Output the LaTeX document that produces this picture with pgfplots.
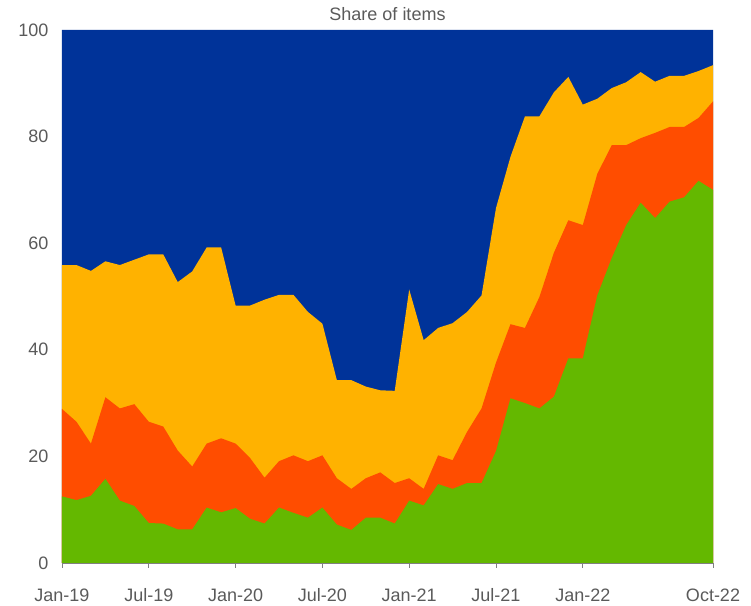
\documentclass[border=0pt]{standalone}
\usepackage{pgfplots}
\pgfplotsset{compat=1.18}
\usepackage{pgfplotstable}
\usepackage{fontspec}
\setmainfont{Liberation Sans}
\definecolor{cblue}{RGB}{0,51,153}
\definecolor{cyellow}{RGB}{255,178,0}
\definecolor{cred}{RGB}{255,77,0}
\definecolor{cgreen}{RGB}{100,184,0}
\definecolor{txtgray}{RGB}{90,90,90}
\definecolor{axgray}{RGB}{128,128,128}
% m: month index (0 = Jan-19); G = green top, RT = red top, YT = yellow top, BT = blue top
\pgfplotstableread{
m  G     RT    YT    BT
0  12.5  28.9  55.9  100
1  11.8  26.5  55.9  100
2  12.6  22.4  54.8  100
3  15.8  31.1  56.6  100
4  11.7  29.0  55.9  100
5  10.7  29.8  56.9  100
6  7.5   26.5  57.9  100
7  7.4   25.6  57.9  100
8  6.3   21.1  52.7  100
9  6.3   18.1  54.7  100
10 10.4  22.4  59.2  100
11 9.5   23.4  59.2  100
12 10.3  22.4  48.3  100
13 8.3   19.7  48.3  100
14 7.4   16.0  49.4  100
15 10.4  19.1  50.3  100
16 9.4   20.2  50.3  100
17 8.5   19.1  47.1  100
18 10.4  20.2  44.9  100
19 7.2   15.9  34.3  100
20 6.2   13.9  34.3  100
21 8.5   15.9  33.1  100
22 8.5   17.0  32.4  100
23 7.4   15.0  32.3  100
24 11.7  15.9  51.3  100
25 10.8  13.9  41.8  100
26 14.8  20.2  44.1  100
27 13.9  19.3  45.0  100
28 15.0  24.6  47.1  100
29 15.0  29.0  50.2  100
30 21.0  37.6  66.6  100
31 30.9  44.8  76.2  100
32 30.0  44.1  83.8  100
33 29.0  49.9  83.8  100
34 31.2  58.2  88.3  100
35 38.4  64.3  91.2  100
36 38.4  63.4  86.0  100
37 50.2  73.0  87.1  100
38 57.2  78.4  89.1  100
39 63.4  78.4  90.2  100
40 67.6  79.7  92.1  100
41 64.7  80.7  90.3  100
42 67.8  81.8  91.4  100
43 68.6  81.8  91.4  100
44 71.7  83.5  92.3  100
45 70.0  86.6  93.4  100
}\datatab
\begin{document}
\begin{tikzpicture}
\begin{axis}[
  scale only axis,
  width=651pt, height=533pt,
  xmin=0, xmax=45, ymin=0, ymax=100,
  axis x line=bottom, axis y line=left,
  axis line style={axgray, line width=0.8pt, -},
  xtick={0,6,12,18,24,30,36,45},
  xticklabels={Jan-19,Jul-19,Jan-20,Jul-20,Jan-21,Jul-21,Jan-22,Oct-22},
  ytick={0,20,40,60,80,100},
  xtick align=outside, ytick align=inside,
  major tick length=5pt,
  tick style={axgray, line width=0.8pt},
  ticklabel style={font=\fontsize{18}{21}\selectfont, text=txtgray},
  /pgf/number format/assume math mode=true,
  xticklabel style={yshift=-17pt},
  yticklabel style={xshift=-10pt},
  title={Share of items},
  title style={at={(0.5,1)}, anchor=base, yshift=3pt, font=\fontsize{18}{21}\selectfont, text=txtgray},
  clip=true,
]
\addplot[draw=none, fill=cblue] table[x=m, y=BT] {\datatab} \closedcycle;
\addplot[draw=none, fill=cyellow] table[x=m, y=YT] {\datatab} \closedcycle;
\addplot[draw=none, fill=cred] table[x=m, y=RT] {\datatab} \closedcycle;
\addplot[draw=none, fill=cgreen] table[x=m, y=G] {\datatab} \closedcycle;
\end{axis}
\path (-62pt,-42pt) rectangle (689pt,563pt);
\end{tikzpicture}
\end{document}
